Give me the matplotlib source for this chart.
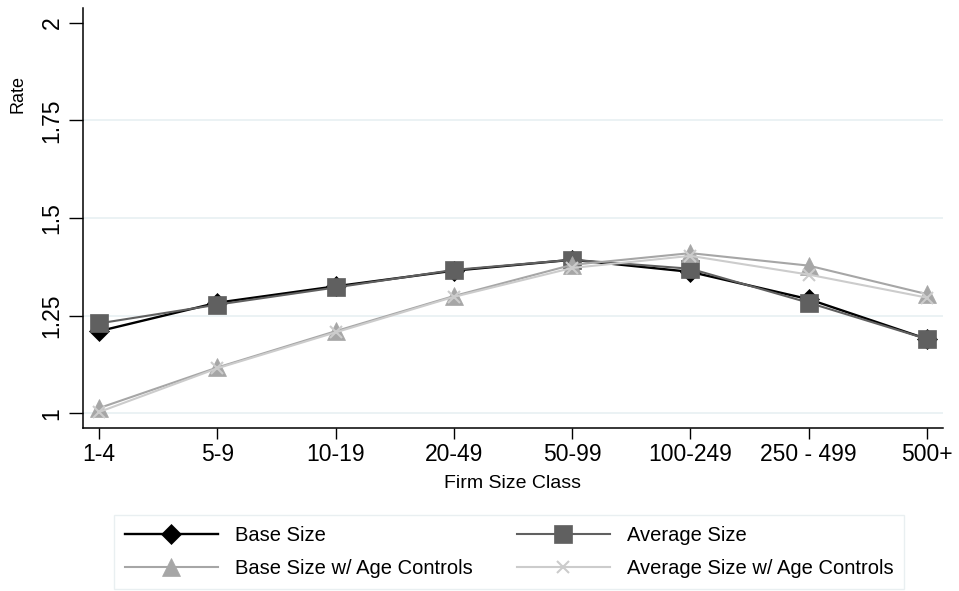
import matplotlib.pyplot as plt
import numpy as np

plt.rcParams["font.family"] = ["Liberation Sans", "DejaVu Sans"]

size_classes = ["1-4", "5-9", "10-19", "20-49", "50-99", "100-249", "250 - 499", "500+"]
base_size = [1.21, 1.283, 1.325, 1.365, 1.393, 1.362, 1.292, 1.19]
average_size = [1.23, 1.278, 1.322, 1.367, 1.393, 1.37, 1.283, 1.19]
base_size_age = [1.013, 1.117, 1.21, 1.30, 1.38, 1.41, 1.378, 1.305]
average_size_age = [1.003, 1.115, 1.207, 1.298, 1.372, 1.403, 1.355, 1.296]

yticks = [1, 1.25, 1.5, 1.75, 2]
ytick_labels = ["1", "1.25", "1.5", "1.75", "2"]

fig = plt.figure(figsize=(9.59, 5.91), dpi=100)
ax = fig.add_axes([83 / 959, 1 - 428 / 591, (943 - 83) / 959, (428 - 8) / 591])

x = np.arange(len(size_classes))
series = [
    (base_size, "Base Size", "black", "D", 10, 1.7),
    (average_size, "Average Size", "#606060", "s", 13, 1.5),
    (base_size_age, "Base Size w/ Age Controls", "#a6a6a6", "^", 13, 1.5),
    (average_size_age, "Average Size w/ Age Controls", "#cccccc", "x", 9, 1.5),
]
lines = []
for vals, lab, col, mk, ms, lw in series:
    ln, = ax.plot(x, vals, color=col, marker=mk, markersize=ms, linewidth=lw,
                  markeredgecolor=col, markerfacecolor=col,
                  markeredgewidth=1.5 if mk == "x" else 0.5, label=lab)
    lines.append(ln)

ax.set_xlim(-0.136, 7.136)
ax.set_ylim(0.962, 2.038)
ax.set_xticks(x)
ax.set_xticklabels(size_classes, fontsize=16.5)
ax.set_yticks(yticks)
ax.set_yticklabels(ytick_labels, fontsize=16.5, rotation=90, va="center")
ax.tick_params(axis="y", length=10, width=1, pad=4)
ax.tick_params(axis="x", length=8, width=1, pad=3)

ax.yaxis.grid(True, color="#e8f0f2", linewidth=1.2)
ax.get_ygridlines()[-1].set_visible(False)
ax.set_axisbelow(True)
for s in ["top", "right"]:
    ax.spines[s].set_visible(False)
for s in ["left", "bottom"]:
    ax.spines[s].set_linewidth(1.1)

ax.set_xlabel("Firm Size Class", fontsize=14, labelpad=6)
ax.set_ylabel("Rate", fontsize=13)
ax.yaxis.set_label_coords(-0.066, (428 - 94) / 420)

# legend is filled row by row in the original, matplotlib fills columns
order = [0, 2, 1, 3]
leg = fig.legend([lines[i] for i in order], [lines[i].get_label() for i in order],
                 loc="upper left", bbox_to_anchor=(114 / 959, 1 - 515 / 591), ncol=2,
                 fontsize=14.5, handlelength=4.6, handletextpad=0.85, columnspacing=2.2,
                 borderpad=0.55, labelspacing=0.7, fancybox=False, frameon=True,
                 borderaxespad=0)
leg.get_frame().set_edgecolor("#e4ecee")
leg.get_frame().set_linewidth(1.0)

fig.savefig("out.png", dpi=100)
